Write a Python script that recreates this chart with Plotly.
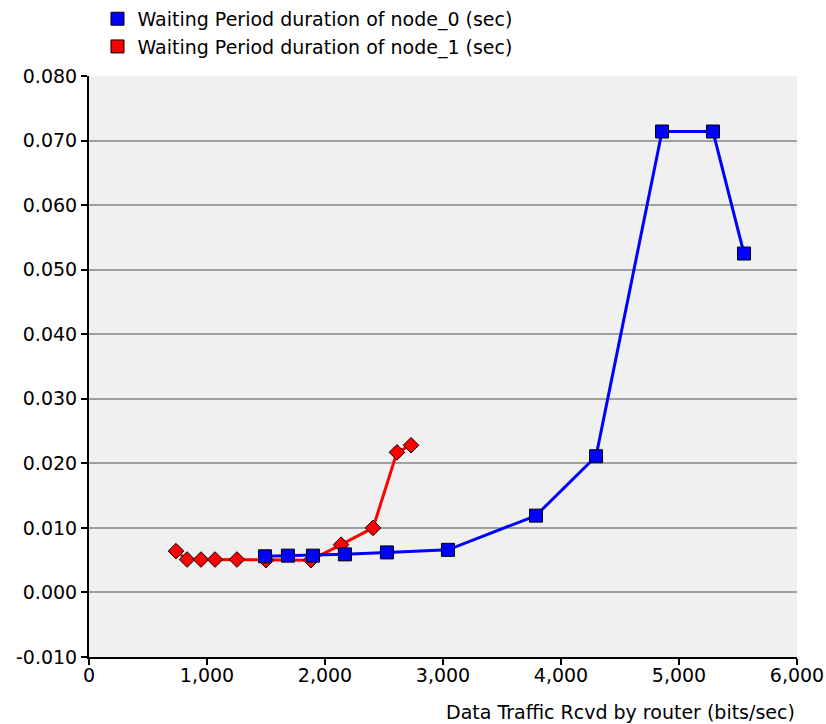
import plotly.graph_objects as go

# node_0 (blue squares)
node0_x = [1492, 1686, 1898, 2169, 2525, 3042, 3788, 4297, 4856, 5288, 5551]
node0_y = [0.0056, 0.0057, 0.0057, 0.0059, 0.0062, 0.0066, 0.0119, 0.0211, 0.0714, 0.0714, 0.0525]

# node_1 (red diamonds)
node1_x = [737, 831, 949, 1068, 1254, 1500, 1881, 2136, 2407, 2610, 2729]
node1_y = [0.0064, 0.0051, 0.0051, 0.0051, 0.0051, 0.0050, 0.0050, 0.0074, 0.0100, 0.0217, 0.0228]

names = ['Waiting Period duration of node_0 (sec)', 'Waiting Period duration of node_1 (sec)']
colors = ['#0000ff', '#ff0000']

y_ticks = [-0.01, 0.0, 0.01, 0.02, 0.03, 0.04, 0.05, 0.06, 0.07, 0.08]
y_labels = ['-0.010', '0.000', '0.010', '0.020', '0.030', '0.040', '0.050', '0.060', '0.070', '0.080']
x_ticks = [0, 1000, 2000, 3000, 4000, 5000, 6000]
x_labels = ['0', '1,000', '2,000', '3,000', '4,000', '5,000', '6,000']

fig = go.Figure()

fig.add_trace(go.Scatter(
    x=node1_x, y=node1_y, mode='lines+markers', showlegend=False,
    line=dict(color=colors[1], width=3),
    marker=dict(symbol='diamond', size=12, color=colors[1], line=dict(color='black', width=1))
))
fig.add_trace(go.Scatter(
    x=node0_x, y=node0_y, mode='lines+markers', showlegend=False,
    line=dict(color=colors[0], width=3),
    marker=dict(symbol='square', size=13, color=colors[0], line=dict(color='black', width=1))
))

# legend entries: plain squares
for name, c in zip(names, colors):
    fig.add_trace(go.Scatter(
        x=[None], y=[None], mode='markers', name=name,
        marker=dict(symbol='square', size=13, color=c, line=dict(color='black', width=1))
    ))

fig.update_layout(
    width=826, height=724,
    plot_bgcolor='#f0f0f0',
    paper_bgcolor='white',
    font=dict(family='DejaVu Sans, sans-serif', size=19, color='black'),
    margin=dict(l=89, r=29, t=76, b=67, autoexpand=False),
    legend=dict(x=0.012, y=1.131, xanchor='left', yanchor='top',
                bgcolor='rgba(0,0,0,0)', tracegroupgap=0, itemwidth=30,
                font=dict(size=19)),
    annotations=[dict(
        text='Data Traffic Rcvd by router (bits/sec)', xref='paper', yref='paper',
        x=1.0, y=0, xanchor='right', yanchor='top', yshift=-42, showarrow=False,
        font=dict(size=19)
    )],
)

fig.update_xaxes(
    range=[0, 6000], tickvals=x_ticks, ticktext=x_labels,
    showgrid=False, zeroline=False, showline=True, linecolor='black', linewidth=2,
    ticks='outside', ticklen=6, tickcolor='black', tickwidth=2, automargin=False,
    ticklabelstandoff=-6, ticklabeloverflow='allow'
)
fig.update_yaxes(
    range=[-0.010, 0.080], tickvals=y_ticks, ticktext=y_labels,
    showgrid=True, gridcolor='#a0a0a0', gridwidth=2, zeroline=False,
    showline=True, linecolor='black', linewidth=2,
    ticks='outside', ticklen=6, tickcolor='black', tickwidth=2, automargin=False
)

# page body has a default 8px margin; drop it so the figure fills the window
fig.write_html('out.html', config={'displayModeBar': False},
               post_script="document.body.style.margin='0';")
